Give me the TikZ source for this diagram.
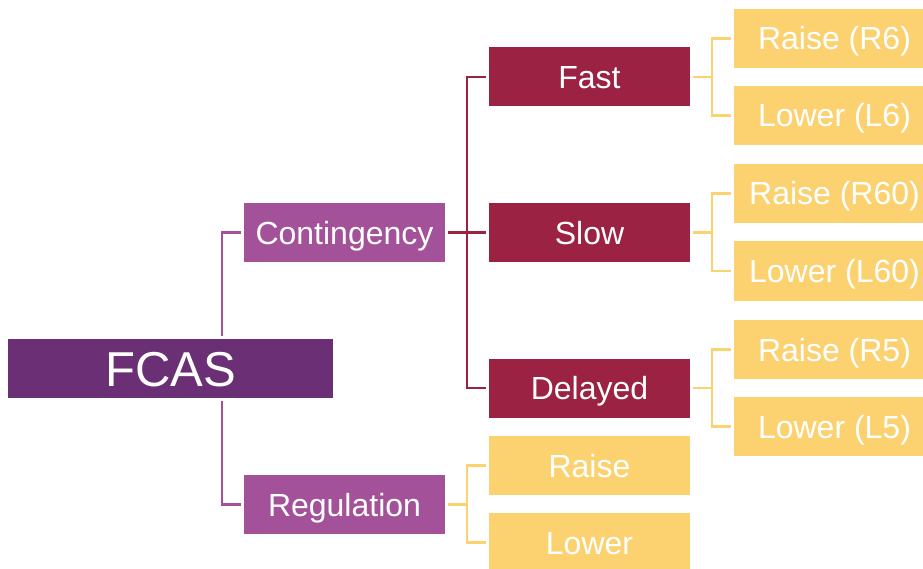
\documentclass[tikz,border=0pt]{standalone}
\usepackage{fontspec}
\setmainfont{Liberation Sans}
\definecolor{fcaspurple}{HTML}{6B2F75}
\definecolor{servpurple}{HTML}{A35299}
\definecolor{speedred}{HTML}{9B2242}
\definecolor{dirgold}{HTML}{FCD270}
\begin{document}
\begin{tikzpicture}[x=1pt, y=-1pt,
    box/.style = {inner sep=0pt, outer sep=3pt, text=white, font=\fontsize{32}{38}\selectfont, text height=23pt, text depth=0pt, minimum width=201pt, minimum height=59pt},
    root/.style = {box, fill=fcaspurple, minimum width=325pt, font=\fontsize{49}{56}\selectfont, text height=35pt},
    serv/.style = {box, fill=servpurple},
    speed/.style = {box, fill=speedred},
    dir/.style = {box, fill=dirgold},
    link/.style = {line width=2.5pt}]
		\clip (0,0) rectangle (923,569);
		\node[root] (fcas) at (170.5,368.5) {FCAS};
		\node[serv] (cont) at (344.5,232.5) {Contingency};
		\node[serv] (reg) at (344.5,504.5) {Regulation};
		\node[speed] (fast) at (589.5,77) {Fast};
		\node[speed] (slow) at (589.5,232.5) {Slow};
		\node[speed] (delayed) at (589.5,388) {Delayed};
		\node[dir] (raise) at (589.5,465.5) {Raise};
		\node[dir] (lower) at (589.5,542.5) {Lower};
		\node[dir] (r6) at (834.5,38.5) {Raise (R6)};
		\node[dir] (l6) at (834.5,115.5) {Lower (L6)};
		\node[dir] (r60) at (834.5,193.5) {Raise (R60)};
		\node[dir] (l60) at (834.5,271) {Lower (L60)};
		\node[dir] (r5) at (834.5,349.5) {Raise (R5)};
		\node[dir] (l5) at (834.5,426.5) {Lower (L5)};
		% bus points
		\coordinate (busfcas) at (222,368.5);
		\coordinate (buscont) at (467,232.5);
		\coordinate (busreg) at (467,504.5);
		\coordinate (busfast) at (712,77);
		\coordinate (busslow) at (712,232.5);
		\coordinate (busdelayed) at (712,388);
		% connectors
		\draw[link, servpurple] (fcas.north -| busfcas) |- (cont.west);
		\draw[link, servpurple] (fcas.south -| busfcas) |- (reg.west);
		\draw[link, speedred] (cont.east) -- (slow.west);
		\draw[link, speedred] (fast.west) -| (buscont) |- (delayed.west);
		\draw[link, dirgold] (reg.east) -- (busreg);
		\draw[link, dirgold] (raise.west) -| (busreg) |- (lower.west);
		\draw[link, dirgold] (fast.east) -- (busfast);
		\draw[link, dirgold] (r6.west) -| (busfast) |- (l6.west);
		\draw[link, dirgold] (slow.east) -- (busslow);
		\draw[link, dirgold] (r60.west) -| (busslow) |- (l60.west);
		\draw[link, dirgold] (delayed.east) -- (busdelayed);
		\draw[link, dirgold] (r5.west) -| (busdelayed) |- (l5.west);
	\end{tikzpicture}
\end{document}
